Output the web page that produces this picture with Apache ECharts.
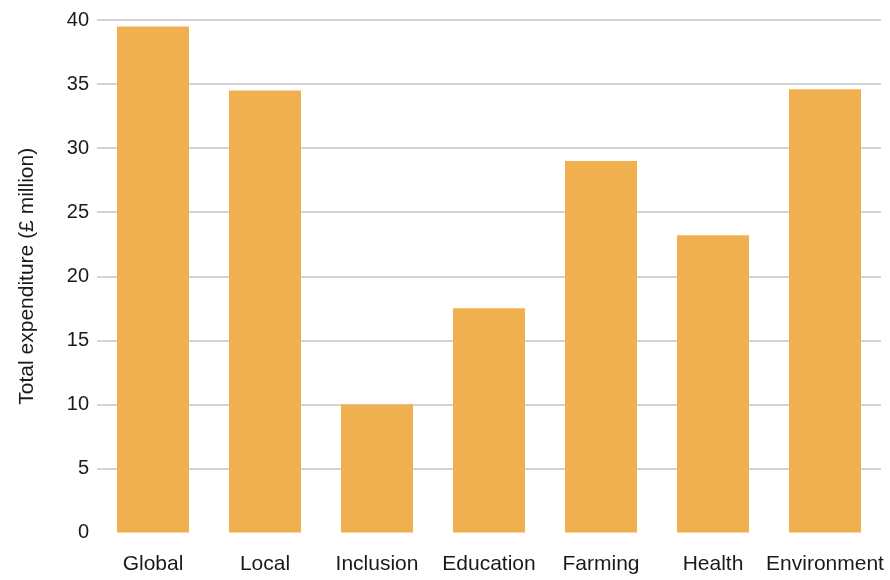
<!DOCTYPE html>
<html>
<head>
<meta charset="utf-8">
<script src="https://cdn.jsdelivr.net/npm/echarts@6/dist/echarts.min.js"></script>
<style>
  html, body { margin: 0; padding: 0; background: #fff; }
  #chart { width: 890px; height: 580px; }
</style>
</head>
<body>
<div id="chart"></div>
<script>
// Expenditure by programme area
const categories = ['Global', 'Local', 'Inclusion', 'Education', 'Farming', 'Health', 'Environment'];
const expenditure = [39.5, 34.5, 10, 17.5, 29, 23.2, 34.6];
const yTicks = [0, 5, 10, 15, 20, 25, 30, 35, 40];

const chart = echarts.init(document.getElementById('chart'));
const font = '"Liberation Sans", Arial, Helvetica, sans-serif';

// zero line hidden, the rest light grey
const gridColors = yTicks.map((t, i) => (i === 0 ? 'rgba(0,0,0,0)' : '#c4c4c4'));

chart.setOption({
  animation: false,
  grid: { left: 97, right: 9, top: 20, bottom: 47.5 },
  xAxis: {
    type: 'category',
    data: categories,
    axisLine: { show: false },
    axisTick: { show: false },
    axisLabel: { interval: 0, color: '#1a1a1a', fontSize: 21, fontFamily: font, margin: 21 }
  },
  yAxis: {
    type: 'value',
    min: yTicks[0],
    max: yTicks[yTicks.length - 1],
    interval: 5,
    name: 'Total expenditure (£ million)',
    nameLocation: 'middle',
    nameGap: 59,
    nameTextStyle: { color: '#1a1a1a', fontSize: 21, fontFamily: font },
    axisLine: { show: false },
    axisTick: { show: false },
    axisLabel: { color: '#1a1a1a', fontSize: 20, fontFamily: font, margin: 8 },
    splitLine: { lineStyle: { color: gridColors, width: 1.5 } }
  },
  series: [{
    type: 'bar',
    data: expenditure,
    barWidth: 72,
    itemStyle: { color: '#F1B04F' }
  }]
});
</script>
</body>
</html>
